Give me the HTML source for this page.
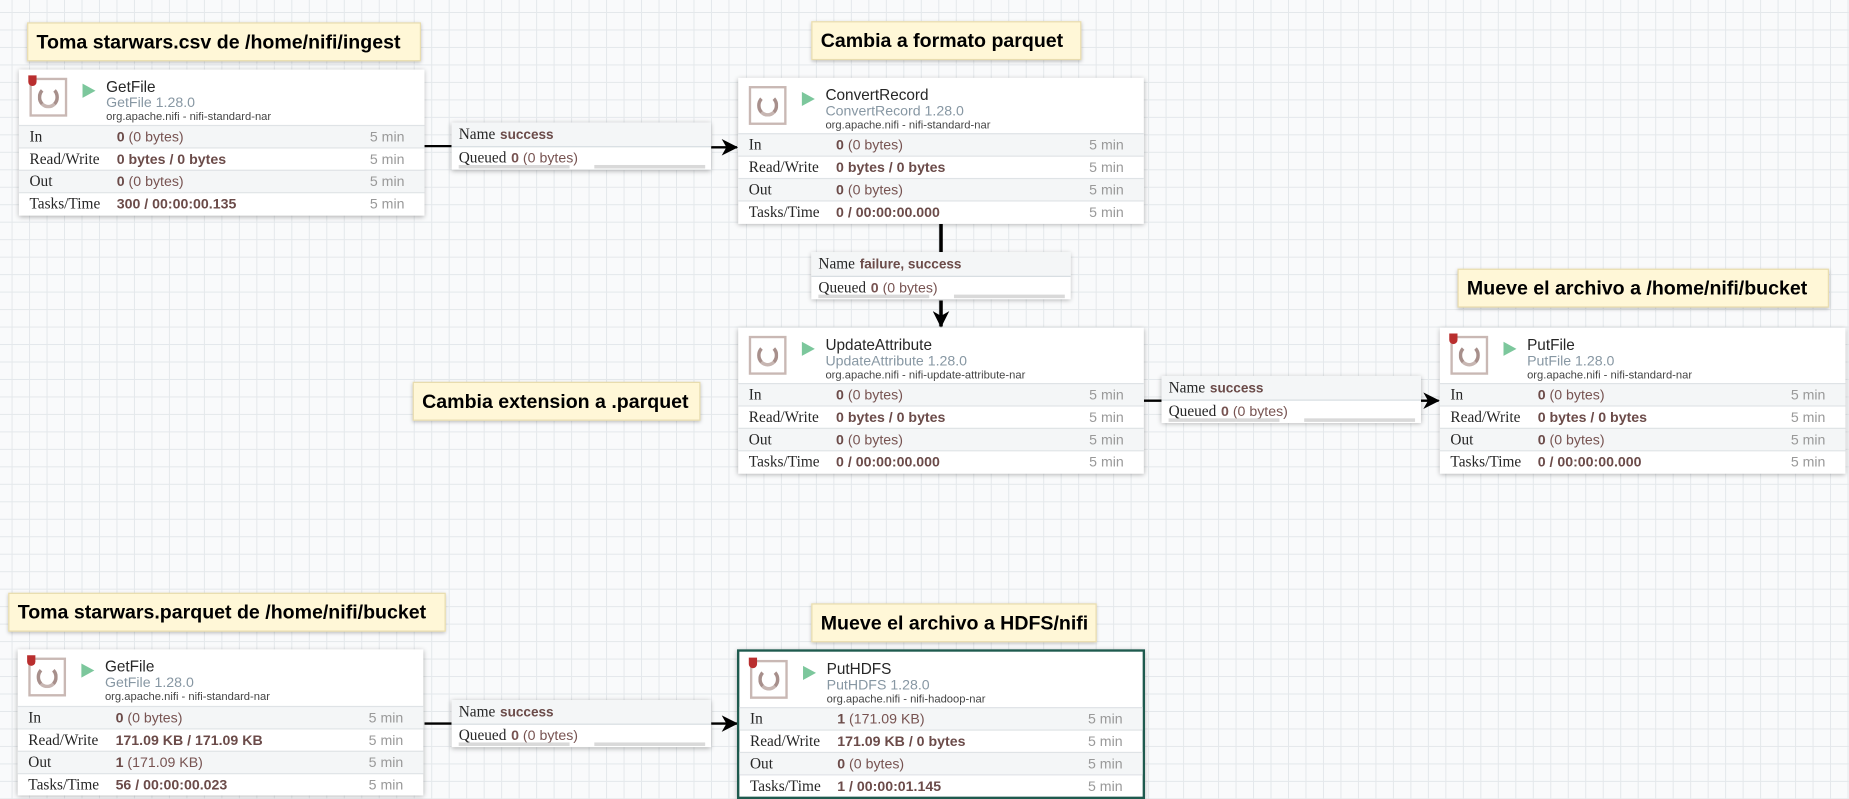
<!DOCTYPE html>
<html><head><meta charset="utf-8"><style>
html,body{margin:0;padding:0;width:1849px;height:799px;overflow:hidden;background:#f9fafb}
#c{position:absolute;left:0;top:0;width:1568px;height:678px;transform:scale(1.17921,1.17847);transform-origin:0 0;
background-color:#f9fafb;
background-image:linear-gradient(to right,#e4e8eb 1px,transparent 1px),linear-gradient(to bottom,#e4e8eb 1px,transparent 1px);
background-size:14.84px 14.84px;background-position:9.8px 10.2px;font-family:"Liberation Sans",sans-serif}
.lbl{position:absolute;background:#fff7d7;border:1px solid #e8dcae;box-shadow:0 1px 3px rgba(0,0,0,.25);font-weight:bold;font-size:16.6px;color:#000;line-height:31px;padding:0 7px;white-space:nowrap;box-sizing:border-box;height:33px}
.p{position:absolute;width:344px;height:124px;background:#fff;box-shadow:0 1px 4px rgba(0,0,0,.3);box-sizing:border-box}
.p.sel{border:2px solid #1e5a4e}
.ic{position:absolute;left:9px;top:7px;width:32px;height:33px;border:2px solid #c9b8b4;box-sizing:border-box;background:#fff}
.ic:after{content:"";position:absolute;left:5px;top:5px;width:18px;height:19px;border-radius:50%;border:3.5px solid #a78f8b;border-top-color:transparent;border-bottom-color:#c7b6b2;box-sizing:border-box}
.sh{position:absolute;left:8px;top:5px;width:7px;height:9px;background:#b92e2e;border-radius:0 0 4px 4px}
.pl{position:absolute;left:54px;top:12px;width:0;height:0;border-left:11px solid #7cc79c;border-top:6.5px solid transparent;border-bottom:6.5px solid transparent}
.nm{position:absolute;left:74px;top:7px;font-size:13px;color:#262626}
.ty{position:absolute;left:74px;top:21px;font-size:12px;color:#8797a3}
.nr{position:absolute;left:74px;top:35px;font-size:9.5px;color:#444}
.r{position:absolute;left:0;width:100%;height:18px;border-top:1px solid #dfe3e6;font-size:12px;line-height:18px}
.r.g{background:#f4f6f7}
.r .k{position:absolute;left:9px;font-family:"Liberation Serif",serif;color:#262626;font-size:13px}
.r .v{position:absolute;left:83px;color:#775351}
.r .v b{color:#6b4b49}
.r .t{position:absolute;right:17px;color:#999}
.cn{position:absolute;width:220px;height:40px;background:#fff;box-shadow:0 1px 4px rgba(0,0,0,.3)}
.cn .a{height:20px;background:#f4f6f7;border-bottom:1px solid #d7dde1;line-height:20px;font-size:13px;padding-left:6px;font-family:"Liberation Serif",serif;color:#262626;white-space:nowrap}
.cn .a b{font-family:"Liberation Sans",sans-serif;font-size:11.5px;color:#6b4b49;margin-left:4px}
.cn .q{height:17px;line-height:17px;font-size:13px;padding-left:6px;font-family:"Liberation Serif",serif;color:#262626}
.cn .q span{font-family:"Liberation Sans",sans-serif;font-size:12px;color:#775351;margin-left:4px}
.bar{position:absolute;z-index:2;top:36px;height:3px;background:#d9d9d9;width:94px}
svg{position:absolute;left:0;top:0}
</style></head><body><div id="c">
<svg width="1568" height="678">
<defs><marker id="ah" markerWidth="14" markerHeight="14" refX="13" refY="7" orient="auto" markerUnits="userSpaceOnUse"><path d="M0,0 L14,7 L0,14 L4,7 z" fill="#000"/></marker></defs>
<g stroke="#000" stroke-width="2" fill="none">
<line x1="360" y1="124" x2="383" y2="124"/>
<line x1="603" y1="125" x2="625" y2="125" marker-end="url(#ah)"/>
<line x1="798" y1="190" x2="798" y2="214" stroke-width="3"/>
<line x1="798" y1="255" x2="798" y2="277" stroke-width="3" marker-end="url(#ah)"/>
<line x1="970" y1="340" x2="985" y2="340"/>
<line x1="1205" y1="340" x2="1220" y2="340" marker-end="url(#ah)"/>
<line x1="360" y1="614" x2="383" y2="614"/>
<line x1="603" y1="614" x2="625" y2="614" marker-end="url(#ah)"/>
</g></svg>

<div class="lbl" style="left:23px;top:19px;width:334px">Toma starwars.csv de /home/nifi/ingest</div>
<div class="lbl" style="left:688px;top:18px;width:229px">Cambia a formato parquet</div>
<div class="lbl" style="left:1236px;top:228px;width:315px">Mueve el archivo a /home/nifi/bucket</div>
<div class="lbl" style="left:350px;top:324px;width:244px">Cambia extension a .parquet</div>
<div class="lbl" style="left:7px;top:503px;width:371px">Toma starwars.parquet de /home/nifi/bucket</div>
<div class="lbl" style="left:688px;top:512px;width:242px">Mueve el archivo a HDFS/nifi</div>

<div class="p" style="left:16px;top:59px"><div class="ic"></div><div class="sh"></div><div class="pl"></div>
<div class="nm">GetFile</div><div class="ty">GetFile 1.28.0</div><div class="nr">org.apache.nifi - nifi-standard-nar</div>
<div class="r g" style="top:47px"><span class="k">In</span><span class="v"><b>0</b> (0 bytes)</span><span class="t">5 min</span></div>
<div class="r" style="top:66px"><span class="k">Read/Write</span><span class="v"><b>0 bytes / 0 bytes</b></span><span class="t">5 min</span></div>
<div class="r g" style="top:85px"><span class="k">Out</span><span class="v"><b>0</b> (0 bytes)</span><span class="t">5 min</span></div>
<div class="r" style="top:104px"><span class="k">Tasks/Time</span><span class="v"><b>300 / 00:00:00.135</b></span><span class="t">5 min</span></div></div>

<div class="p" style="left:626px;top:66px"><div class="ic"></div><div class="pl"></div>
<div class="nm">ConvertRecord</div><div class="ty">ConvertRecord 1.28.0</div><div class="nr">org.apache.nifi - nifi-standard-nar</div>
<div class="r g" style="top:47px"><span class="k">In</span><span class="v"><b>0</b> (0 bytes)</span><span class="t">5 min</span></div>
<div class="r" style="top:66px"><span class="k">Read/Write</span><span class="v"><b>0 bytes / 0 bytes</b></span><span class="t">5 min</span></div>
<div class="r g" style="top:85px"><span class="k">Out</span><span class="v"><b>0</b> (0 bytes)</span><span class="t">5 min</span></div>
<div class="r" style="top:104px"><span class="k">Tasks/Time</span><span class="v"><b>0 / 00:00:00.000</b></span><span class="t">5 min</span></div></div>

<div class="p" style="left:626px;top:278px"><div class="ic"></div><div class="pl"></div>
<div class="nm">UpdateAttribute</div><div class="ty">UpdateAttribute 1.28.0</div><div class="nr">org.apache.nifi - nifi-update-attribute-nar</div>
<div class="r g" style="top:47px"><span class="k">In</span><span class="v"><b>0</b> (0 bytes)</span><span class="t">5 min</span></div>
<div class="r" style="top:66px"><span class="k">Read/Write</span><span class="v"><b>0 bytes / 0 bytes</b></span><span class="t">5 min</span></div>
<div class="r g" style="top:85px"><span class="k">Out</span><span class="v"><b>0</b> (0 bytes)</span><span class="t">5 min</span></div>
<div class="r" style="top:104px"><span class="k">Tasks/Time</span><span class="v"><b>0 / 00:00:00.000</b></span><span class="t">5 min</span></div></div>

<div class="p" style="left:1221px;top:278px"><div class="ic"></div><div class="sh"></div><div class="pl"></div>
<div class="nm">PutFile</div><div class="ty">PutFile 1.28.0</div><div class="nr">org.apache.nifi - nifi-standard-nar</div>
<div class="r g" style="top:47px"><span class="k">In</span><span class="v"><b>0</b> (0 bytes)</span><span class="t">5 min</span></div>
<div class="r" style="top:66px"><span class="k">Read/Write</span><span class="v"><b>0 bytes / 0 bytes</b></span><span class="t">5 min</span></div>
<div class="r g" style="top:85px"><span class="k">Out</span><span class="v"><b>0</b> (0 bytes)</span><span class="t">5 min</span></div>
<div class="r" style="top:104px"><span class="k">Tasks/Time</span><span class="v"><b>0 / 00:00:00.000</b></span><span class="t">5 min</span></div></div>

<div class="p" style="left:15px;top:551px"><div class="ic"></div><div class="sh"></div><div class="pl"></div>
<div class="nm">GetFile</div><div class="ty">GetFile 1.28.0</div><div class="nr">org.apache.nifi - nifi-standard-nar</div>
<div class="r g" style="top:48px"><span class="k">In</span><span class="v"><b>0</b> (0 bytes)</span><span class="t">5 min</span></div>
<div class="r" style="top:67px"><span class="k">Read/Write</span><span class="v"><b>171.09 KB / 171.09 KB</b></span><span class="t">5 min</span></div>
<div class="r g" style="top:86px"><span class="k">Out</span><span class="v"><b>1</b> (171.09 KB)</span><span class="t">5 min</span></div>
<div class="r" style="top:105px"><span class="k">Tasks/Time</span><span class="v"><b>56 / 00:00:00.023</b></span><span class="t">5 min</span></div></div>

<div class="p sel" style="left:625px;top:551px;width:346px;height:127px"><div class="ic"></div><div class="sh"></div><div class="pl"></div>
<div class="nm">PutHDFS</div><div class="ty">PutHDFS 1.28.0</div><div class="nr">org.apache.nifi - nifi-hadoop-nar</div>
<div class="r g" style="top:47px"><span class="k">In</span><span class="v"><b>1</b> (171.09 KB)</span><span class="t">5 min</span></div>
<div class="r" style="top:66px"><span class="k">Read/Write</span><span class="v"><b>171.09 KB / 0 bytes</b></span><span class="t">5 min</span></div>
<div class="r g" style="top:85px"><span class="k">Out</span><span class="v"><b>0</b> (0 bytes)</span><span class="t">5 min</span></div>
<div class="r" style="top:104px"><span class="k">Tasks/Time</span><span class="v"><b>1 / 00:00:01.145</b></span><span class="t">5 min</span></div></div>

<div class="cn" style="left:383px;top:104px"><div class="a">Name<b>success</b></div><div class="q">Queued<span><b>0</b> (0 bytes)</span></div><div class="bar" style="left:6px"></div><div class="bar" style="left:121px"></div></div>
<div class="cn" style="left:688px;top:214px"><div class="a">Name<b>failure, success</b></div><div class="q">Queued<span><b>0</b> (0 bytes)</span></div><div class="bar" style="left:6px"></div><div class="bar" style="left:121px"></div></div>
<div class="cn" style="left:985px;top:319px"><div class="a">Name<b>success</b></div><div class="q">Queued<span><b>0</b> (0 bytes)</span></div><div class="bar" style="left:6px"></div><div class="bar" style="left:121px"></div></div>
<div class="cn" style="left:383px;top:594px"><div class="a">Name<b>success</b></div><div class="q">Queued<span><b>0</b> (0 bytes)</span></div><div class="bar" style="left:6px"></div><div class="bar" style="left:121px"></div></div>
</div></body></html>
